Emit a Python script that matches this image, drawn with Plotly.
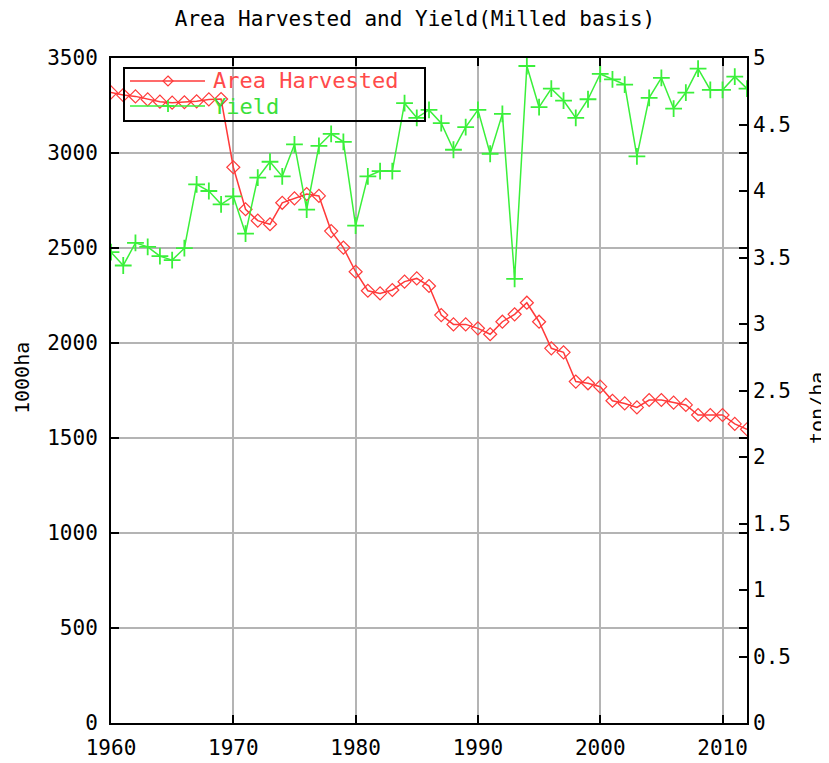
import plotly.graph_objects as go

years = list(range(1960, 2013))

area_harvested = [3319, 3305, 3298, 3282, 3270, 3265, 3267, 3272, 3282, 3284,
                  2925, 2704, 2644, 2625, 2738, 2761, 2784, 2774, 2589, 2502,
                  2375, 2275, 2261, 2279, 2323, 2340, 2300, 2147, 2098, 2098,
                  2077, 2046, 2112, 2151, 2212, 2112, 1972, 1951, 1797, 1788,
                  1770, 1696, 1682, 1661, 1700, 1700, 1686, 1674, 1621, 1621,
                  1621, 1574, 1546]

yield_t = [3.54, 3.44, 3.61, 3.58, 3.51, 3.48, 3.57, 4.05, 4.00, 3.90,
           3.96, 3.68, 4.10, 4.22, 4.11, 4.35, 3.86, 4.34, 4.43, 4.37,
           3.74, 4.11, 4.15, 4.15, 4.66, 4.55, 4.61, 4.51, 4.31, 4.48,
           4.61, 4.28, 4.58, 3.34, 4.94, 4.63, 4.77, 4.68, 4.55, 4.69,
           4.88, 4.84, 4.80, 4.26, 4.70, 4.85, 4.62, 4.74, 4.92, 4.76,
           4.76, 4.86, 4.77]

left_ticks = [0, 500, 1000, 1500, 2000, 2500, 3000, 3500]
right_ticks = [0, 0.5, 1, 1.5, 2, 2.5, 3, 3.5, 4, 4.5, 5]
right_labels = ["0", "0.5", "1", "1.5", "2", "2.5", "3", "3.5", "4", "4.5", "5"]
x_ticks = [1960, 1970, 1980, 1990, 2000, 2010]
series_names = ["Area Harvested", "Yield"]

FONT = "DejaVu Sans Mono"
RED = "#ff3a3a"
GREEN = "#3af03a"
RED_TXT = "#ff4a4a"
GREEN_TXT = "#3ae03a"

# page body has an 8px margin: plot area should be at x 111..747, y 58..723 on the page
OFF = 8
W, H = 829 - OFF, 763 - OFF
ML, MR, MT, MB = 111 - OFF, 82, 58 - OFF, 40
PX0, PY1, PW, PH = 111, 723, 636, 665


def px(x):
    return (x - PX0) / PW


def py(y):
    return (PY1 - y) / PH


fig = go.Figure()
fig.add_trace(go.Scatter(
    x=years, y=area_harvested, mode="lines+markers", name=series_names[0],
    line=dict(color=RED, width=1.5),
    marker=dict(symbol="diamond-open", size=10, color=RED, line=dict(width=1.2)),
    yaxis="y", showlegend=False))
fig.add_trace(go.Scatter(
    x=years, y=yield_t, mode="lines+markers", name=series_names[1],
    line=dict(color=GREEN, width=1.5),
    marker=dict(symbol="cross-thin-open", size=12, color=GREEN, line=dict(width=1.8, color=GREEN)),
    yaxis="y2", showlegend=False))

axis_common = dict(ticks="inside", ticklen=8, tickwidth=2, tickcolor="black",
                   zeroline=False, automargin=False, tickfont=dict(family=FONT, size=21))

fig.update_layout(
    width=W, height=H,
    margin=dict(l=ML, r=MR, t=MT, b=MB, autoexpand=False),
    paper_bgcolor="white", plot_bgcolor="white",
    font=dict(family=FONT, size=20, color="black"),
    title=dict(text="Area Harvested and Yield(Milled basis)", x=(415 - OFF) / W, xanchor="center",
               y=1 - (19 - OFF) / H, yanchor="middle", font=dict(family=FONT, size=21)),
    showlegend=False,
    xaxis=dict(range=[1960, 2012], tickvals=x_ticks, showgrid=True, gridcolor="#b4b4b4",
               gridwidth=2, showline=True, linecolor="black", linewidth=2,
               mirror="ticks", ticklabelstandoff=5, **axis_common),
    yaxis=dict(range=[0, 3500], tickvals=left_ticks, showgrid=True, gridcolor="#b4b4b4",
               gridwidth=2, showline=True, linecolor="black", linewidth=2,
               mirror="ticks", ticklabelstandoff=7, **axis_common),
    yaxis2=dict(range=[0, 5], tickvals=right_ticks, ticktext=right_labels,
                overlaying="y", side="right", showgrid=False, showline=False,
                ticklabelstandoff=5, **axis_common),
)

# custom legend (gnuplot style, transparent box)
shapes = [dict(type="rect", xref="paper", yref="paper",
               x0=px(124), x1=px(425), y0=py(121), y1=py(68),
               line=dict(color="black", width=2), fillcolor="rgba(0,0,0,0)")]
for yy, col in [(81, RED), (106, GREEN)]:
    shapes.append(dict(type="line", xref="paper", yref="paper",
                       x0=px(130), x1=px(205), y0=py(yy), y1=py(yy),
                       line=dict(color=col, width=1.5)))
cx, cy, d = 168, 81, 5
shapes.append(dict(type="path", xref="paper", yref="paper",
                   path=f"M {px(cx)},{py(cy - d)} L {px(cx + d)},{py(cy)} L {px(cx)},{py(cy + d)} L {px(cx - d)},{py(cy)} Z",
                   line=dict(color=RED, width=1.2), fillcolor="rgba(0,0,0,0)"))
cx, cy, d = 168, 106, 6
shapes.append(dict(type="line", xref="paper", yref="paper",
                   x0=px(cx - d), x1=px(cx + d), y0=py(cy), y1=py(cy),
                   line=dict(color=GREEN, width=1.8)))
shapes.append(dict(type="line", xref="paper", yref="paper",
                   x0=px(cx), x1=px(cx), y0=py(cy - d), y1=py(cy + d),
                   line=dict(color=GREEN, width=1.8)))
fig.update_layout(shapes=shapes)

fig.add_annotation(text=series_names[0], xref="paper", yref="paper",
                   x=px(211), y=py(81), xanchor="left", yanchor="middle", showarrow=False,
                   font=dict(family=FONT, size=22, color=RED_TXT))
fig.add_annotation(text=series_names[1], xref="paper", yref="paper",
                   x=px(211), y=py(106), xanchor="left", yanchor="middle", showarrow=False,
                   font=dict(family=FONT, size=22, color=GREEN_TXT))

fig.add_annotation(text="1000ha", textangle=-90, xref="paper", yref="paper",
                   x=px(22), y=py(378), xanchor="center", yanchor="middle", showarrow=False,
                   font=dict(family=FONT, size=20))
fig.add_annotation(text="ton/ha", textangle=-90, xref="paper", yref="paper",
                   x=px(817), y=py(408), xanchor="center", yanchor="middle", showarrow=False,
                   font=dict(family=FONT, size=20))

fig.write_html("out.html")
